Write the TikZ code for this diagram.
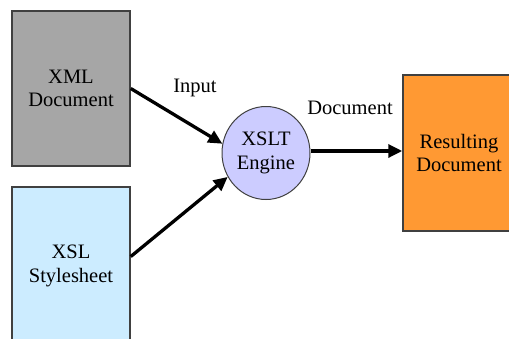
\documentclass[tikz,border=0pt]{standalone}
\usepackage{fontspec}
\setmainfont{Liberation Serif}
\usetikzlibrary{arrows.meta,shapes.geometric}
\definecolor{xmlgray}{HTML}{A6A6A6}
\definecolor{xslblue}{HTML}{CCECFF}
\definecolor{englav}{HTML}{CCCCFF}
\definecolor{resorange}{HTML}{FF9933}
\definecolor{edge}{HTML}{404040}
\tikzset{
  docbox/.style={draw=edge, line width=1.5pt, minimum width=118pt, align=center, inner sep=0pt},
  engine/.style={ellipse, draw=edge, line width=1pt, fill=englav, minimum width=88pt, minimum height=93pt, align=center, inner sep=0pt},
  flow/.style={line width=3.3pt, -{Triangle[length=14pt,width=13pt]}},
  lbl/.style={inner sep=0pt},
}
\begin{document}
\begin{tikzpicture}[x=1pt,y=-1pt,font=\fontsize{20.5}{23.5}\selectfont]
\useasboundingbox (0,0) rectangle (509,338);
\begin{scope}
\clip (0,0) rectangle (509,338);
\node[docbox, fill=xmlgray, minimum height=155pt] (xml) at (71,88.5) {XML\\Document};
\node[docbox, fill=xslblue, minimum height=158pt] (xsl) at (71,266) {XSL\\Stylesheet};
\node[docbox, fill=resorange, minimum width=112pt, minimum height=156pt] (res) at (459,153) {Resulting\\Document};
\end{scope}
\node[engine] (eng) at (266,153) {XSLT\\Engine};
\draw[flow] (xml.east) -- (eng.168);
\draw[flow] (xsl.9.6) -- (eng.212);
\draw[flow] (eng.east |- 0,151) coordinate (eo) -- (res.west |- eo);
\node[lbl] (inlbl) at (195,88) {Input};
\node[lbl] (doclbl) at (350,108) {Document};
\end{tikzpicture}
\end{document}
